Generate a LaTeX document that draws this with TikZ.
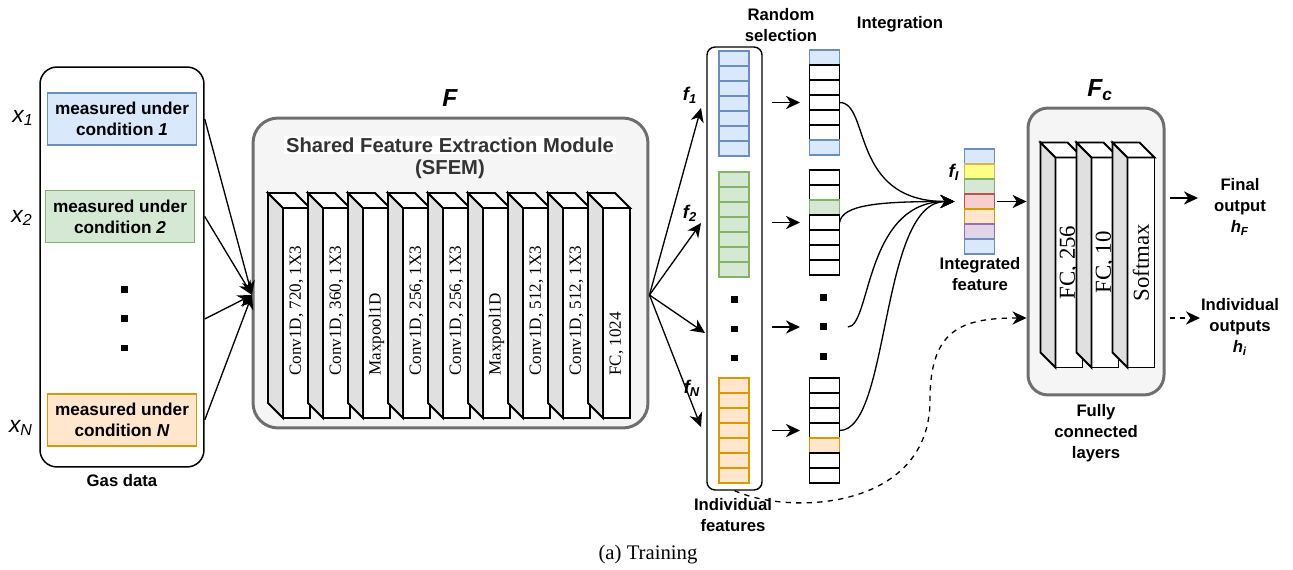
\documentclass[tikz,border=0pt]{standalone}
\usepackage{fontspec}
\setmainfont{Liberation Serif}
\setsansfont{Liberation Sans}
\usepackage{tikz}
\usetikzlibrary{arrows}
\usetikzlibrary{arrows.meta}
\usetikzlibrary{calc}
\usetikzlibrary{positioning}

\definecolor{blueF}{HTML}{DAE8FC}
\definecolor{blueD}{HTML}{6C8EBF}
\definecolor{greenF}{HTML}{D5E8D4}
\definecolor{greenD}{HTML}{82B366}
\definecolor{orangeF}{HTML}{FFE6CC}
\definecolor{orangeD}{HTML}{D79B00}
\definecolor{redF}{HTML}{F8CECC}
\definecolor{redD}{HTML}{B85450}
\definecolor{purpleF}{HTML}{E1D5E7}
\definecolor{purpleD}{HTML}{9673A6}
\definecolor{yellowF}{HTML}{FFFF88}
\definecolor{yellowD}{HTML}{D6B656}
\definecolor{modF}{HTML}{F5F5F5}
\definecolor{modD}{HTML}{6E6E6E}
\definecolor{sideF}{HTML}{E0E0E0}
\definecolor{titleC}{HTML}{333333}

\tikzset{cblue/.style={fill=blueF, draw=blueD}}
\tikzset{cgreen/.style={fill=greenF, draw=greenD}}
\tikzset{corange/.style={fill=orangeF, draw=orangeD}}
\tikzset{cred/.style={fill=redF, draw=redD}}
\tikzset{cpurple/.style={fill=purpleF, draw=purpleD}}
\tikzset{cyellow/.style={fill=yellowF, draw=yellowD}}
\tikzset{cwhite/.style={fill=white, draw=black}}
\tikzset{conn/.style={draw, line width=0.75pt, -{Stealth[length=8pt,width=7.5pt,inset=2.5pt]}}}

\begin{document}
\begin{tikzpicture}[x=0.02cm, y=-0.02cm]
\tikzstyle{lbl} = [font=\sffamily\bfseries\fontsize{9.5}{12}\selectfont, align=center, inner sep=1pt]
\tikzstyle{flbl} = [font=\sffamily\bfseries\itshape\fontsize{10.5}{12}\selectfont, inner sep=0]
\tikzstyle{xlbl} = [font=\sffamily\itshape\fontsize{13}{15}\selectfont, inner sep=0]
\tikzstyle{bigf} = [font=\sffamily\bfseries\itshape\fontsize{14}{16}\selectfont, inner sep=0]
\tikzstyle{cond} = [line width=0.8pt, minimum width=2.98cm, minimum height=1.04cm, inner sep=0, align=center, font=\sffamily\bfseries\fontsize{9.8}{12}\selectfont]
\tikzstyle{cell} = [line width=0.8pt, minimum width=0.6cm, minimum height=0.3cm, inner sep=0, outer sep=0]
\tikzstyle{dot} = [fill=black, minimum size=0.14cm, inner sep=0]
\tikzstyle{module} = [draw=modD, fill=modF, line width=1.7pt, rounded corners=0.5cm]
\tikzstyle{layer} = [draw, fill=white, line width=1.1pt, minimum width=0.54cm, minimum height=4.2cm, inner sep=0, outer sep=0]
\tikzstyle{layerside} = [fill=sideF, draw=black, line width=1.1pt]
\tikzstyle{layertop} = [fill=white, draw=black, line width=1.1pt]
\tikzstyle{ltext} = [rotate=90, inner sep=0, font=\fontsize{9.7}{11}\selectfont]
\tikzstyle{ltextbig} = [rotate=90, inner sep=0, font=\fontsize{13}{15}\selectfont]

\useasboundingbox (0,0) rectangle (1293,570);

% gas data
\node[draw, line width=0.85pt, rounded corners=0.34cm, minimum width=3.28cm, minimum height=8cm] (GAS) at (122,267) {};
\node[cond,cblue] (C1) at (122,119) {measured under\\condition \textit{1}};
\node[cond,cgreen] (C2) at (120,216.5) {measured under\\condition \textit{2}};
\node[cond,corange] (CN) at (122,420) {measured under\\condition \textit{N}};
\foreach \c in {1,2,3}
{
   \node[dot] (GD\c) at (124,261+29*\c) {};
}
\node[xlbl] (X1) at (23,118) {x\textsubscript{1}};
\node[xlbl] (X2) at (22,218) {x\textsubscript{2}};
\node[xlbl] (XN) at (21,428) {x\textsubscript{N}};
\node[lbl] (GASL) at (122,481) {Gas data};

% shared feature extraction module
\node[module, minimum width=7.9cm, minimum height=6.2cm] (SFEM) at (450.5,273) {};
\node[bigf] (FL) at (450,98) {F};
\node[font=\sffamily\bfseries\fontsize{11.5}{13}\selectfont, text=titleC, fill=white, inner sep=1pt] (SFEMT) at (450,145) {Shared Feature Extraction Module};
\node[font=\sffamily\bfseries\fontsize{11.5}{13}\selectfont, text=titleC, inner sep=1pt] (SFEMS) at (450,169) {(SFEM)};
\foreach \t [count=\c] in {{Conv1D, 720, 1X3},{Conv1D, 360, 1X3},Maxpool1D,{Conv1D, 256, 1X3},{Conv1D, 256, 1X3},Maxpool1D,{Conv1D, 512, 1X3},{Conv1D, 512, 1X3},{FC, 1024}}
{
   \node[layer] (L\c) at (256.5+40*\c,313) {};
   \filldraw[layerside] (L\c.north west) -- ++(-15,-15) -- ++(0,210) -- (L\c.south west) -- cycle;
   \filldraw[layertop] (L\c.north west) -- ++(-15,-15) -- ++(27,0) -- (L\c.north east) -- cycle;
   \node[ltext, anchor=west] (LT\c) at ($(L\c.south)+(0,-42)$) {\t};
}

% inputs into the module
\coordinate (IN) at (252,295);
\foreach \n in {C1,C2,GD2,CN}
{
   \draw[conn] (GAS.east |- \n) -- (IN);
}

% individual features
\coordinate (OUT) at (SFEM.east |- IN);
\coordinate (T1) at (701,108);
\coordinate (T2) at (701,223);
\coordinate (T3) at (705,333);
\coordinate (T4) at (701,427);
\foreach \c in {1,...,4}
{
   \draw[conn] (OUT) -- (T\c);
}
\node[flbl] (FL1) at (690,95) {f\textsubscript{1}};
\node[flbl] (FL2) at (690,213) {f\textsubscript{2}};
\node[flbl] (FLN) at (692,388) {f\textsubscript{N}};

\node[draw, line width=0.8pt, rounded corners=0.16cm, minimum width=1.1cm, minimum height=8.86cm] (FEAT) at (734.5,268.5) {};
\foreach \c in {1,...,7}
{
   \node[cell,cblue] (B\c) at (734,43.5+15*\c) {};
   \node[cell,cgreen] (G\c) at (734,164.5+15*\c) {};
   \node[cell,corange] (O\c) at (734,370.5+15*\c) {};
}
\foreach \c in {1,2,3}
{
   \node[dot] (FD\c) at (734,271+29*\c) {};
}
\node[lbl] (FEATL) at (733,515) {Individual\\features};

% random selection
\foreach \s [count=\c] in {cblue,cwhite,cwhite,cwhite,cwhite,cwhite,cblue}
{
   \node[cell,\s] (SA\c) at (824.5,42.5+15*\c) {};
}
\foreach \s [count=\c] in {cwhite,cwhite,cgreen,cwhite,cwhite,cwhite,cwhite}
{
   \node[cell,\s] (SB\c) at (824.5,162.5+15*\c) {};
}
\foreach \c in {1,2,3}
{
   \node[dot] (SD\c) at (823,268+29.5*\c) {};
}
\foreach \s [count=\c] in {cwhite,cwhite,cwhite,cwhite,corange,cwhite,cwhite}
{
   \node[cell,\s] (SN\c) at (824.5,370.5+15*\c) {};
}
\draw[conn, shorten <=0.18cm, shorten >=0.19cm] (FEAT.east |- SA4) -- (SA4.west);
\draw[conn, shorten <=0.18cm, shorten >=0.19cm] (FEAT.east |- SB4) -- (SB4.west);
\draw[conn, shorten <=0.18cm, shorten >=0.19cm] (FEAT.east |- SD2) -- (SA4.west |- SD2);
\draw[conn, shorten <=0.18cm, shorten >=0.19cm] (FEAT.east |- SN4) -- (SN4.west);
\node[lbl] (RSL) at (781,25) {Random\\selection};
\node[lbl] (INTL) at (900,24) {Integration};

% integrated feature
\foreach \s [count=\c] in {cblue,cyellow,cgreen,cred,corange,cpurple,cblue}
{
   \node[cell,\s] (I\c) at (979.5,141.5+15*\c) {};
}
\coordinate[left=0.2cm of I4.west] (INT);
\coordinate[right=0.42cm of SD2] (SDR);
\draw[conn] (SA4.east) .. controls +(31,0) and +(-105,0) .. (INT);
\draw[conn] (SB4.east) .. controls +(3,-18) and +(-75,0) .. (INT);
\draw[conn] (SDR) .. controls +(23,0) and +(-90,0) .. (INT);
\draw[conn] (SN4.east) .. controls +(51,0) and +(-75,0) .. (INT);
\node[flbl] (FIL) at (954,172) {f\textsubscript{I}};
\node[lbl] (INTGL) at (980,274) {Integrated\\feature};

% fully connected layers
\node[module, rounded corners=0.4cm, minimum width=2.72cm, minimum height=5.74cm] (FC) at (1096,251.5) {};
\node[bigf] (FCL) at (1100,90) {F\textsubscript{c}};
\foreach \t [count=\c] in {{FC, 256},{FC, 10},Softmax}
{
   \node[layer] (M\c) at (1033+36*\c,262.5) {};
   \filldraw[layerside] (M\c.north west) -- ++(-15,-15) -- ++(0,210) -- (M\c.south west) -- cycle;
   \filldraw[layertop] (M\c.north west) -- ++(-15,-15) -- ++(27,0) -- (M\c.north east) -- cycle;
   \node[ltextbig] (MT\c) at (M\c) {\t};
}
\draw[conn, shorten <=0.05cm] (I4.east) -- (FC.west |- I4);
\node[lbl] (FCLL) at (1096,433) {Fully\\connected\\layers};

% outputs
\coordinate (OF) at (1198,198);
\coordinate (OI) at (1200,318);
\draw[conn, shorten <=0.08cm] (FC.east |- OF) -- (OF);
\draw[conn, dashed, shorten <=0.08cm] (FC.east |- OI) -- (OI);
\node[lbl] (FINAL) at (1240,207) {Final\\output\\\textit{h}\textsubscript{\textit{F}}};
\node[lbl] (INDO) at (1240,327) {Individual\\outputs\\\textit{h}\textsubscript{\textit{i}}};

% individual features to classifier
\coordinate (DI) at (FC.west |- OI);
\draw[conn, dashed] (FEAT.south) .. controls +(55,25) and +(0,110) .. (930,400) .. controls +(0,-70) and +(-66,0) .. (DI);

\node[font=\fontsize{11.8}{14}\selectfont] (CAP) at (648,555) {(a) Training};
\end{tikzpicture}
\end{document}
